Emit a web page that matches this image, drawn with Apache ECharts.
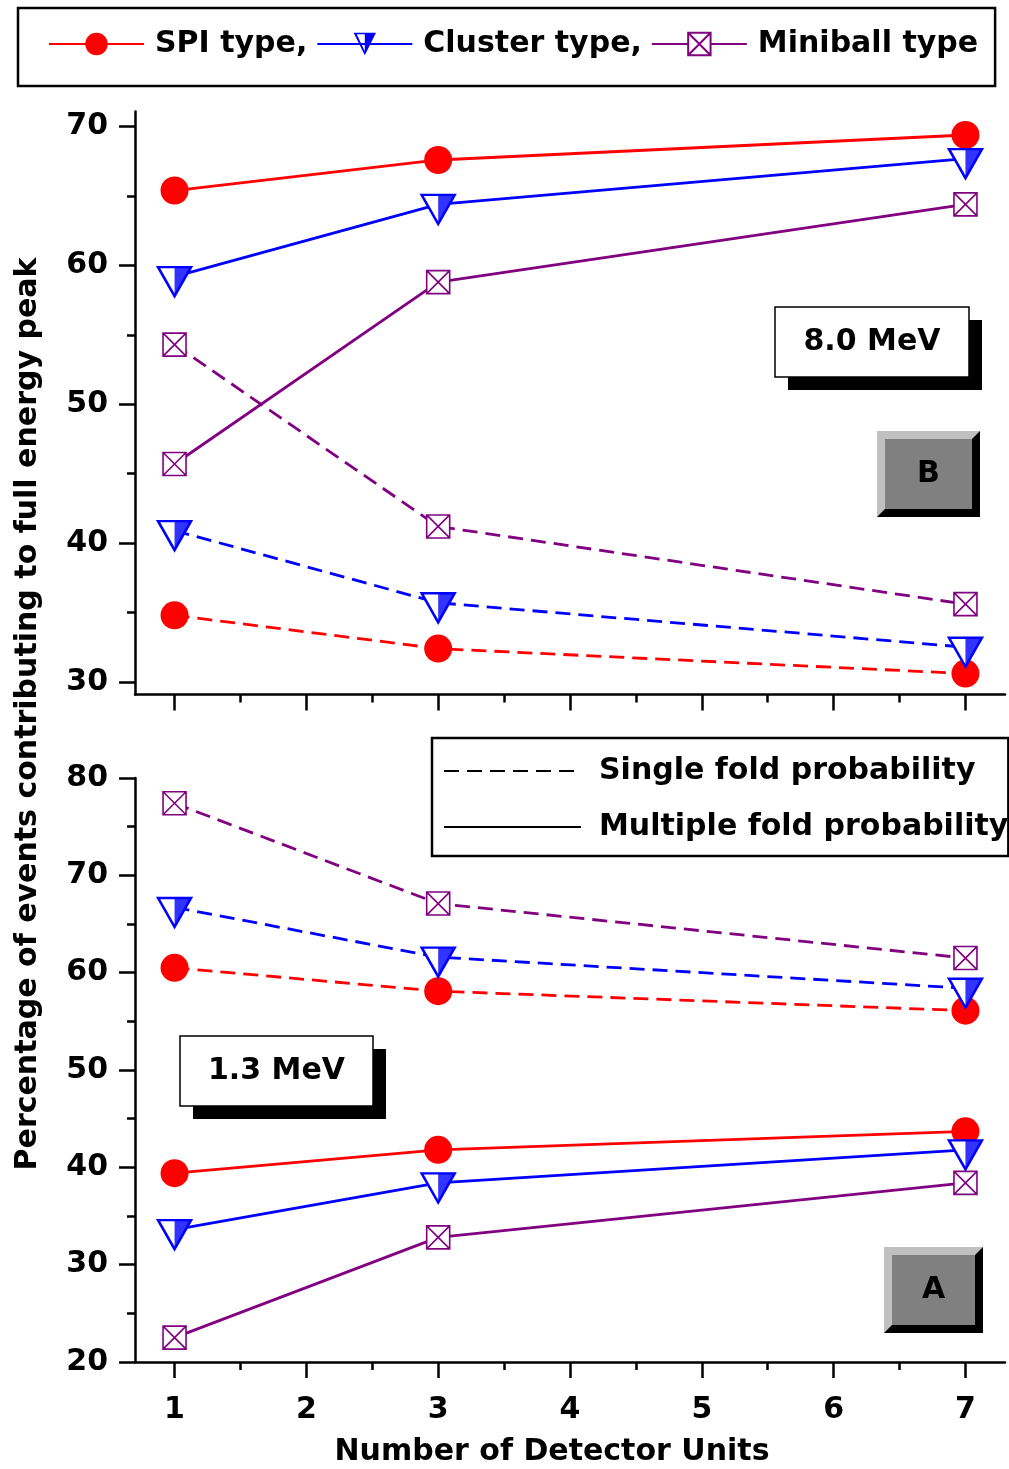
<!DOCTYPE html>
<html>
<head>
<meta charset="utf-8">
<script src="https://cdn.jsdelivr.net/npm/echarts@6/dist/echarts.min.js"></script>
<style>
html, body { margin: 0; padding: 0; background: #fff; }
#main { width: 1009px; height: 1469px; }
</style>
</head>
<body>
<div id="main"></div>
<script>
var units = [1, 3, 7];

// panel B, 8.0 MeV
var spiMultiB = [65.4, 67.6, 69.4];
var spiSingleB = [34.8, 32.4, 30.6];
var clusterMultiB = [59.2, 64.4, 67.7];
var clusterSingleB = [40.9, 35.7, 32.5];
var miniMultiB = [45.7, 58.8, 64.4];
var miniSingleB = [54.3, 41.2, 35.6];

// panel A, 1.3 MeV
var spiMultiA = [39.4, 41.8, 43.7];
var spiSingleA = [60.5, 58.1, 56.1];
var clusterMultiA = [33.6, 38.4, 41.8];
var clusterSingleA = [66.7, 61.6, 58.4];
var miniMultiA = [22.5, 32.8, 38.4];
var miniSingleA = [77.4, 67.1, 61.5];

var xTicks = [1, 2, 3, 4, 5, 6, 7];
var xMinor = [1.5, 2.5, 3.5, 4.5, 5.5, 6.5];
var yTicksB = [30, 40, 50, 60, 70];
var yMinorB = [35, 45, 55, 65];
var yTicksA = [20, 30, 40, 50, 60, 70, 80];
var yMinorA = [25, 35, 45, 55, 65, 75];

var FONT = 'DejaVu Sans';
var RED = '#ff0000', BLUE = '#0000ff', PURPLE = '#800080';
var DASH = [15, 8];
var LW = 2.8;

var triPath = 'path://M0 0L100 0L50 90Z';
var triHalfPath = 'path://M50 0L100 0L50 90Z';
var triLegendPath = 'path://M0 0L100 0L50 90Z M14 6L50 74L86 6Z M50 0L100 0L50 90Z';
var boxXPath = 'path://M0 0L100 0L100 100L0 100Z M0 0L100 100 M100 0L0 100';

function pairs(vals) {
  return units.map(function (u, i) { return [u, vals[i]]; });
}

function mkLine(name, vals, kind, dashed, gi) {
  var color = kind == 'spi' ? RED : (kind == 'cluster' ? BLUE : PURPLE);
  var s = {
    name: name,
    type: 'line',
    xAxisIndex: gi * 2,
    yAxisIndex: gi * 2,
    data: pairs(vals),
    lineStyle: { color: color, width: LW, type: dashed ? DASH : 'solid' },
    emphasis: { disabled: true },
    showAllSymbol: true,
    z: 2
  };
  if (kind == 'spi') {
    s.symbol = 'circle';
    s.symbolSize = 28;
    s.itemStyle = { color: RED };
  } else if (kind == 'cluster') {
    s.symbol = triPath;
    s.symbolSize = [33, 29];
    s.symbolOffset = [0, 5];
    s.symbolKeepAspect = false;
    s.itemStyle = { color: '#fff', borderColor: BLUE, borderWidth: 2.5 };
  } else {
    s.symbol = boxXPath;
    s.symbolSize = 23;
    s.itemStyle = { color: '#fff', borderColor: PURPLE, borderWidth: 1.6 };
  }
  return s;
}

// filled right half of the cluster triangle
function mkHalf(name, vals, gi) {
  return {
    name: name,
    type: 'scatter',
    xAxisIndex: gi * 2,
    yAxisIndex: gi * 2,
    data: pairs(vals),
    symbol: triHalfPath,
    symbolSize: [16.5, 29],
    symbolOffset: [8.25, 5],
    symbolKeepAspect: false,
    itemStyle: { color: BLUE },
    emphasis: { disabled: true },
    z: 3
  };
}

function xAxes(gi, labels) {
  var major = {
    type: 'value', gridIndex: gi, position: 'bottom', min: 0.7, max: 7.3,
    axisLine: { lineStyle: { color: '#000', width: 2.5 } },
    axisTick: { customValues: xTicks, length: 16, lineStyle: { color: '#000', width: 2.5 } },
    axisLabel: {
      show: labels, customValues: xTicks, margin: 33,
      color: '#000', fontFamily: FONT, fontWeight: 'bold', fontSize: 30
    },
    splitLine: { show: false }
  };
  if (labels) {
    major.name = 'Number of Detector Units';
    major.nameLocation = 'middle';
    major.nameGap = 75;
    major.nameTextStyle = { color: '#000', fontFamily: FONT, fontWeight: 'bold', fontSize: 30, padding: [0, 36, 0, 0] };
  }
  var minor = {
    type: 'value', gridIndex: gi, position: 'bottom', min: 0.7, max: 7.3,
    axisLine: { show: false },
    axisTick: { customValues: xMinor, length: 8, lineStyle: { color: '#000', width: 2.5 } },
    axisLabel: { show: false },
    splitLine: { show: false }
  };
  return [major, minor];
}

function yAxes(gi, min, max, ticks, minorTicks) {
  var major = {
    type: 'value', gridIndex: gi, position: 'left', min: min, max: max,
    axisLine: { show: true, lineStyle: { color: '#000', width: 2.5 } },
    axisTick: { show: true, customValues: ticks, length: 16, lineStyle: { color: '#000', width: 2.5 } },
    axisLabel: {
      customValues: ticks, margin: 27,
      color: '#000', fontFamily: FONT, fontWeight: 'bold', fontSize: 30
    },
    splitLine: { show: false }
  };
  var minor = {
    type: 'value', gridIndex: gi, position: 'left', min: min, max: max,
    axisLine: { show: false },
    axisTick: { show: true, customValues: minorTicks, length: 8, lineStyle: { color: '#000', width: 2.5 } },
    axisLabel: { show: false },
    splitLine: { show: false }
  };
  return [major, minor];
}

var series = [
  // legend samples
  { name: 'SPI type,', type: 'line', data: [], symbol: 'circle', lineStyle: { color: RED, width: LW }, itemStyle: { color: RED } },
  { name: 'Cluster type,', type: 'line', data: [], symbol: triLegendPath, lineStyle: { color: BLUE, width: LW }, itemStyle: { color: BLUE } },
  { name: 'Miniball type', type: 'line', data: [], symbol: boxXPath, lineStyle: { color: PURPLE, width: LW }, itemStyle: { color: '#fff', borderColor: PURPLE, borderWidth: 1.5 } },
  { name: 'Single fold probability', type: 'line', data: [], symbol: 'none', showSymbol: false, lineStyle: { color: '#000', width: 2.5, type: DASH }, itemStyle: { color: '#000', opacity: 0 } },
  { name: 'Multiple fold probability', type: 'line', data: [], symbol: 'none', showSymbol: false, lineStyle: { color: '#000', width: 2.5 }, itemStyle: { color: '#000', opacity: 0 } },

  mkLine('spi multi B', spiMultiB, 'spi', false, 0),
  mkLine('spi single B', spiSingleB, 'spi', true, 0),
  mkLine('cluster multi B', clusterMultiB, 'cluster', false, 0),
  mkLine('cluster single B', clusterSingleB, 'cluster', true, 0),
  mkLine('mini multi B', miniMultiB, 'mini', false, 0),
  mkLine('mini single B', miniSingleB, 'mini', true, 0),
  mkHalf('cluster half multi B', clusterMultiB, 0),
  mkHalf('cluster half single B', clusterSingleB, 0),

  mkLine('spi multi A', spiMultiA, 'spi', false, 1),
  mkLine('spi single A', spiSingleA, 'spi', true, 1),
  mkLine('cluster multi A', clusterMultiA, 'cluster', false, 1),
  mkLine('cluster single A', clusterSingleA, 'cluster', true, 1),
  mkLine('mini multi A', miniMultiA, 'mini', false, 1),
  mkLine('mini single A', miniSingleA, 'mini', true, 1),
  mkHalf('cluster half multi A', clusterMultiA, 1),
  mkHalf('cluster half single A', clusterSingleA, 1)
];

function labelBox(x, y, w, h, text) {
  return {
    type: 'group',
    children: [
      { type: 'rect', shape: { x: x + 13, y: y + 13, width: w, height: h }, style: { fill: '#000' } },
      { type: 'rect', shape: { x: x, y: y, width: w, height: h }, style: { fill: '#fff', stroke: '#000', lineWidth: 1.5 } },
      { type: 'text', x: x + w / 2, y: y + h / 2, style: { text: text, fill: '#000', fontFamily: FONT, fontWeight: 'bold', fontSize: 30, align: 'center', verticalAlign: 'middle' } }
    ]
  };
}

function button(x, y, w, h, b, text) {
  return {
    type: 'group',
    children: [
      { type: 'rect', shape: { x: x, y: y, width: w, height: h }, style: { fill: '#c0c0c0' } },
      { type: 'polygon', shape: { points: [[x + w, y], [x + w, y + h], [x, y + h], [x + b, y + h - b], [x + w - b, y + h - b], [x + w - b, y + b]] }, style: { fill: '#000' } },
      { type: 'rect', shape: { x: x + b, y: y + b, width: w - 2 * b, height: h - 2 * b }, style: { fill: '#808080' } },
      { type: 'text', x: x + w / 2, y: y + h / 2, style: { text: text, fill: '#000', fontFamily: FONT, fontWeight: 'bold', fontSize: 30, align: 'center', verticalAlign: 'middle' } }
    ]
  };
}

var chart = echarts.init(document.getElementById('main'), null, { renderer: 'canvas' });

var option = {
  animation: false,
  backgroundColor: '#fff',
  grid: [
    { left: 135, top: 111.4, width: 870, height: 583, outerBoundsMode: 'none' },
    { left: 135, top: 778, width: 870, height: 584, outerBoundsMode: 'none' }
  ],
  xAxis: xAxes(0, false).concat(xAxes(1, true)),
  yAxis: yAxes(0, 29.1, 71.1, yTicksB, yMinorB).concat(yAxes(1, 20, 80, yTicksA, yMinorA)),
  legend: [{
    data: ['SPI type,', 'Cluster type,', 'Miniball type'],
    left: 18, top: 8,
    orient: 'horizontal',
    itemWidth: 95, itemHeight: 28, itemGap: 9,
    padding: [21, 17, 27, 30],
    borderColor: '#000', borderWidth: 2.5,
    selectedMode: false,
    textStyle: { color: '#000', fontFamily: FONT, fontWeight: 'bold', fontSize: 30, padding: [0, 0, 0, 6] }
  }, {
    data: ['Single fold probability', 'Multiple fold probability'],
    left: 432, top: 738,
    orient: 'vertical',
    itemWidth: 137, itemHeight: 14, itemGap: 26,
    padding: [18, 0, 14, 11],
    borderColor: '#000', borderWidth: 2.5,
    selectedMode: false,
    itemStyle: { opacity: 0 },
    textStyle: { color: '#000', fontFamily: FONT, fontWeight: 'bold', fontSize: 30, padding: [0, 0, 0, 13] }
  }],
  graphic: [
    {
      type: 'text', x: 28, y: 714, rotation: Math.PI / 2,
      style: { text: 'Percentage of events contributing to full energy peak', fill: '#000', fontFamily: FONT, fontWeight: 'bold', fontSize: 30, align: 'center', verticalAlign: 'middle' }
    },
    labelBox(775, 307, 194, 70, '8.0 MeV'),
    button(877, 431, 103, 86, 8, 'B'),
    labelBox(180, 1036, 193, 70, '1.3 MeV'),
    button(884, 1247, 99, 86, 8, 'A')
  ],
  series: series
};

chart.setOption(option);
</script>
</body>
</html>
